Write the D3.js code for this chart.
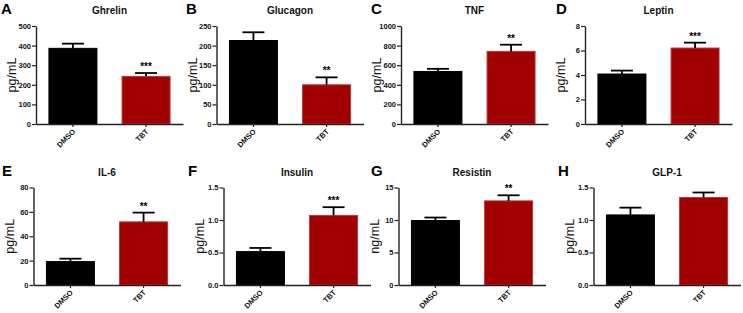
<!DOCTYPE html>
<html>
<head>
<meta charset="utf-8">
<script src="https://cdn.jsdelivr.net/npm/d3@7"></script>
<style>
  body { margin: 0; background: #fff; }
  svg { font-family: "Liberation Sans", Arial, sans-serif; display: block; }
</style>
</head>
<body>
<div id="chart"></div>
<script>
// Data (mean and SEM, upward error bars only)
const letters = ["A", "B", "C", "D", "E", "F", "G", "H"];
const titles = ["Ghrelin", "Glucagon", "TNF", "Leptin", "IL-6", "Insulin", "Resistin", "GLP-1"];
const units = ["pg/mL", "pg/mL", "pg/mL", "pg/mL", "pg/mL", "pg/mL", "ng/mL", "pg/mL"];
const groups = ["DMSO", "TBT"];
const dmsoMean = [386, 213, 536, 4.08, 19.2, 0.514, 9.92, 1.078];
const dmsoSem  = [24, 21, 27, 0.28, 2.4, 0.056, 0.46, 0.112];
const tbtMean  = [243, 100, 741, 6.2, 51.8, 1.07, 12.94, 1.346];
const tbtSem   = [17, 19, 68, 0.44, 7.6, 0.127, 0.86, 0.077];
const stars    = ["***", "**", "**", "***", "**", "***", "**", ""];
const yMax     = [500, 250, 1000, 8, 80, 1.5, 15, 1.5];
const yStep    = [100, 50, 200, 2, 20, 0.5, 5, 0.5];
const yFormat  = ["d", "d", "d", "d", "d", ".1f", "d", ".1f"];

const colors = { DMSO: "#000000", TBT: "#a00000" };
const strokes = { DMSO: "#000000", TBT: "#b83a3a" };

// Layout
const W = 743, H = 313;
const axisX = [36, 216.5, 401, 585, 33.5, 223.5, 398.5, 593.5];
const rowTop = [26, 187.5], rowZero = [124, 285];
const plotW = 147;
const panelX = [1, 186, 371, 556, 2, 188, 371, 558];

const svg = d3.select("#chart").append("svg")
  .attr("width", W).attr("height", H);

titles.forEach((title, i) => {
  const row = i < 4 ? 0 : 1;
  const top = rowTop[row], zero = rowZero[row];

  const x = d3.scaleBand()
    .domain(groups)
    .range([0, plotW])
    .paddingInner(0.33)
    .paddingOuter(0.17);

  const y = d3.scaleLinear()
    .domain([0, yMax[i]])
    .range([zero - top, 0]);

  const g = svg.append("g")
    .attr("transform", `translate(${axisX[i]},${top})`);

  const vals = [
    { k: "DMSO", m: dmsoMean[i], e: dmsoSem[i] },
    { k: "TBT", m: tbtMean[i], e: tbtSem[i] }
  ];

  // bars
  g.selectAll("rect.bar")
    .data(vals)
    .enter().append("rect")
      .attr("class", "bar")
      .attr("x", d => x(d.k) + 0.5)
      .attr("y", d => y(d.m))
      .attr("width", x.bandwidth() - 1)
      .attr("height", d => y(0) - y(d.m))
      .attr("fill", d => colors[d.k])
      .attr("stroke", d => strokes[d.k])
      .attr("stroke-width", 1);

  // error bars
  const cap = 11;
  vals.forEach(d => {
    const cx = x(d.k) + x.bandwidth() / 2;
    g.append("line")
      .attr("x1", cx).attr("x2", cx)
      .attr("y1", y(d.m)).attr("y2", y(d.m + d.e))
      .attr("stroke", "#000").attr("stroke-width", 1.8);
    g.append("line")
      .attr("x1", cx - cap).attr("x2", cx + cap)
      .attr("y1", y(d.m + d.e)).attr("y2", y(d.m + d.e))
      .attr("stroke", "#000").attr("stroke-width", 1.8);
  });

  // significance stars
  if (stars[i]) {
    const d = vals[1];
    g.append("text")
      .attr("x", x(d.k) + x.bandwidth() / 2)
      .attr("y", y(d.m + d.e) - 3)
      .attr("text-anchor", "middle")
      .attr("font-size", "10px")
      .attr("font-weight", "bold")
      .text(stars[i]);
  }

  // y axis
  const ya = g.append("g")
    .call(d3.axisLeft(y)
      .tickValues(d3.range(0, yMax[i] + yStep[i] / 2, yStep[i]))
      .tickFormat(d3.format(yFormat[i]))
      .tickSize(4)
      .tickSizeOuter(0));
  ya.select(".domain").attr("stroke", "#222").attr("stroke-width", 1.4);
  ya.selectAll(".tick line").attr("stroke", "#222").attr("stroke-width", 1.2);
  ya.selectAll(".tick text")
    .attr("font-size", "7.5px")
    .attr("font-weight", "bold")
    .attr("font-family", "Liberation Sans, Arial, sans-serif")
    .attr("fill", "#111")
    .attr("x", -5);

  // x axis (labels drawn separately, rotated)
  const xa = g.append("g")
    .attr("transform", `translate(0,${y(0)})`)
    .call(d3.axisBottom(x).tickSize(3).tickSizeOuter(0).tickFormat(""));
  xa.select(".domain").attr("stroke", "#222").attr("stroke-width", 1.4);
  xa.selectAll(".tick line").attr("stroke", "#222").attr("stroke-width", 1.2);

  g.selectAll("text.xlab")
    .data(groups)
    .enter().append("text")
      .attr("class", "xlab")
      .attr("text-anchor", "end")
      .attr("font-size", "7.5px")
      .attr("font-weight", "bold")
      .attr("fill", "#111")
      .attr("transform", d => `translate(${x(d) + x.bandwidth() / 2 + 3},${y(0) + 8}) rotate(-45)`)
      .text(d => d);

  // y label
  g.append("text")
    .attr("transform", "rotate(-90)")
    .attr("x", -(zero - top) / 2)
    .attr("y", -20)
    .attr("text-anchor", "middle")
    .attr("font-size", "12.5px")
    .attr("fill", "#111")
    .text(units[i]);

  // title
  g.append("text")
    .attr("x", plotW / 2)
    .attr("y", -12)
    .attr("text-anchor", "middle")
    .attr("font-size", "10px")
    .attr("font-weight", "bold")
    .attr("fill", "#111")
    .text(title);

  // panel letter
  svg.append("text")
    .attr("x", panelX[i])
    .attr("y", top - 12)
    .attr("font-size", "15px")
    .attr("font-weight", "bold")
    .attr("fill", "#000")
    .text(letters[i]);
});
</script>
</body>
</html>
